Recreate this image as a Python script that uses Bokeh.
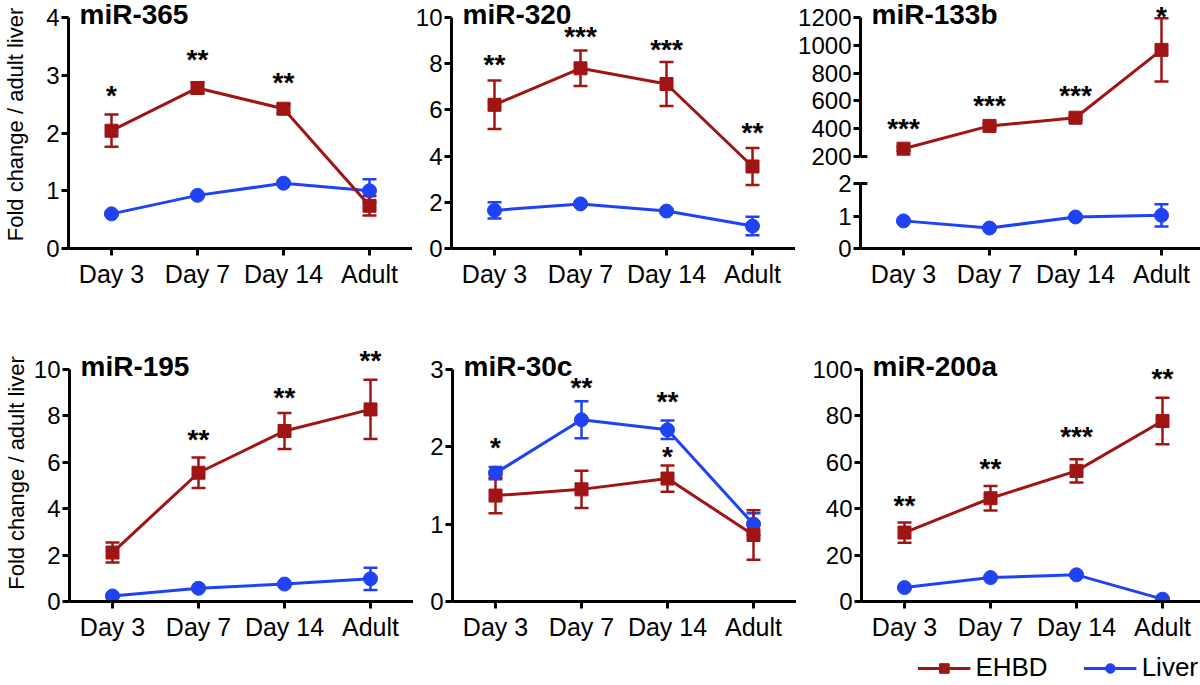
from bokeh.plotting import figure
from bokeh.models import (FactorRange, Range1d, FixedTicker, ColumnDataSource, Whisker,
                          TeeHead, Label, LabelSet, Legend, LegendItem)
from bokeh.layouts import row, column
from bokeh.embed import file_html
from bokeh.resources import INLINE
from bokeh.core.properties import value

# ---------------- data ----------------
categories = ["Day 3", "Day 7", "Day 14", "Adult"]

# miR-365
mir365_ehbd = [2.04, 2.78, 2.42, 0.74]
mir365_ehbd_err = [0.28, 0.10, 0.08, 0.17]
mir365_liver = [0.60, 0.92, 1.13, 1.00]
mir365_liver_err = [0.02, 0.02, 0.02, 0.20]
mir365_ticks = [0, 1, 2, 3, 4]
mir365_stars = ["*", "**", "**", ""]
mir365_star_y = [2.69, 3.31, 2.91, 0]

# miR-320
mir320_ehbd = [6.22, 7.80, 7.12, 3.55]
mir320_ehbd_err = [1.05, 0.77, 0.95, 0.80]
mir320_liver = [1.65, 1.93, 1.62, 0.97]
mir320_liver_err = [0.35, 0.06, 0.06, 0.40]
mir320_ticks = [0, 2, 4, 6, 8, 10]
mir320_stars = ["**", "***", "***", "**"]
mir320_star_y = [8.07, 9.29, 8.74, 5.11]

# miR-133b (broken axis)
mir133b_ehbd = [256, 420, 479, 967]
mir133b_ehbd_err = [15, 15, 15, 227]
mir133b_liver = [0.85, 0.63, 0.97, 1.02]
mir133b_liver_err = [0.03, 0.03, 0.03, 0.34]
mir133b_ticks_upper = [200, 400, 600, 800, 1000, 1200]
mir133b_ticks_lower = [0, 1, 2]
mir133b_stars = ["***", "***", "***", "*"]
mir133b_star_y = [418, 587, 656, 1225]

# miR-195
mir195_ehbd = [2.11, 5.55, 7.35, 8.28]
mir195_ehbd_err = [0.43, 0.66, 0.78, 1.28]
mir195_liver = [0.24, 0.57, 0.75, 0.98]
mir195_liver_err = [0.05, 0.05, 0.05, 0.48]
mir195_ticks = [0, 2, 4, 6, 8, 10]
mir195_stars = ["", "**", "**", "**"]
mir195_star_y = [0, 7.10, 8.92, 10.5]

# miR-30c
mir30c_ehbd = [1.37, 1.45, 1.59, 0.86]
mir30c_ehbd_err = [0.23, 0.24, 0.17, 0.32]
mir30c_liver = [1.66, 2.35, 2.22, 1.00]
mir30c_liver_err = [0.08, 0.24, 0.12, 0.14]
mir30c_ticks = [0, 1, 2, 3]
mir30c_stars_liver = ["*", "**", "**", ""]
mir30c_star_y_liver = [2.02, 2.80, 2.62, 0]
mir30c_stars_ehbd = ["", "", "*", ""]
mir30c_star_y_ehbd = [0, 0, 1.91, 0]

# miR-200a
mir200a_ehbd = [29.7, 44.5, 56.3, 77.8]
mir200a_ehbd_err = [4.4, 5.3, 5.0, 10.0]
mir200a_liver = [6.0, 10.3, 11.5, 1.0]
mir200a_liver_err = [0.3, 0.3, 0.3, 0.3]
mir200a_ticks = [0, 20, 40, 60, 80, 100]
mir200a_stars = ["**", "**", "***", "**"]
mir200a_star_y = [42.6, 58.4, 72.2, 97.1]

series_names = ["EHBD", "Liver"]
y_title = "Fold change / adult liver"

# ---------------- style / layout ----------------
FONT = "Liberation Sans"
RED = "#A01414"
BLUE = "#1F42F2"
FW = 344            # frame width (px)
YTICK_FS = "24px"
XTICK_FS = "25px"
NAN = float("nan")

# row 1: frame starts at figure top; axis occupies 231 px, 17 px of headroom above
R1_AXIS, R1_HEAD = 231, 17
# row 2: border above frame, axis 232 px, 25 px of headroom above axis top
R2_BORDER, R2_AXIS, R2_HEAD = 54, 232, 25
BOTTOM = 41


def make_range(lo, hi, axis_px, head_px, foot_px=0):
    u = (hi - lo) / axis_px
    return Range1d(lo - foot_px * u, hi + head_px * u)


def new_fig(y_range, frame_h, ticks, left, top, bottom, x_axis=True):
    p = figure(x_range=FactorRange(factors=categories), y_range=y_range,
               frame_width=FW, frame_height=frame_h, toolbar_location=None,
               output_backend="svg", x_axis_location="below" if x_axis else None,
               min_border_left=left, min_border_right=0, min_border_top=top,
               min_border_bottom=bottom, outline_line_color=None,
               background_fill_color="white", border_fill_color="white")
    p.grid.visible = False
    p.yaxis.ticker = FixedTicker(ticks=ticks, minor_ticks=[])
    p.yaxis.bounds = (ticks[0], ticks[-1])
    for ax in p.axis:
        ax.axis_line_width = 3
        ax.axis_line_color = "black"
        ax.major_tick_line_width = 3
        ax.major_tick_line_color = "black"
        ax.major_tick_out = 7
        ax.major_tick_in = 0
        ax.minor_tick_line_color = None
        ax.major_label_text_font = FONT
        ax.major_label_text_color = "black"
    p.yaxis.major_label_text_font_size = YTICK_FS
    p.yaxis.major_label_standoff = 2
    if x_axis:
        p.xaxis.major_label_text_font_size = XTICK_FS
        p.xaxis.major_label_standoff = 4
    return p


def add_title(p, name, y_top):
    # x = 0 is the left edge of the categorical frame
    p.add_layout(Label(x=0, y=y_top, x_offset=11, y_offset=3, text=name,
                       text_font=FONT, text_font_size="28px", text_font_style="bold",
                       text_align="left", text_baseline="alphabetic", text_color="black"))


def add_series(p, vals, errs, color, marker, size):
    src = ColumnDataSource(dict(
        x=categories, y=vals,
        upper=[v + e for v, e in zip(vals, errs)],
        lower=[v - e for v, e in zip(vals, errs)]))
    w = Whisker(base="x", upper="upper", lower="lower", source=src, dimension="height",
                line_color=color, line_width=2.5,
                upper_head=TeeHead(size=14, line_color=color, line_width=2.5),
                lower_head=TeeHead(size=14, line_color=color, line_width=2.5))
    p.add_layout(w)
    p.line(x="x", y="y", source=src, line_color=color, line_width=3)
    p.scatter(x="x", y="y", source=src, marker=marker, size=size,
              fill_color=color, line_color=color)


def add_stars(p, stars, star_y):
    xs = [c for c, s in zip(categories, stars) if s]
    ys = [y for y, s in zip(star_y, stars) if s]
    ts = [s for s in stars if s]
    src = ColumnDataSource(dict(x=xs, y=ys, text=ts))
    p.add_layout(LabelSet(x="x", y="y", text="text", source=src, text_align="center",
                          text_baseline="alphabetic", y_offset=-12,
                          text_font=value(FONT), text_font_size="28px",
                          text_font_style="bold", text_color="black"))


def panel(name, ehbd, ehbd_err, liver, liver_err, ticks, left, row_no, ylabel_standoff=None):
    if row_no == 1:
        rng = make_range(ticks[0], ticks[-1], R1_AXIS, R1_HEAD)
        p = new_fig(rng, R1_AXIS + R1_HEAD, ticks, left, 0, BOTTOM)
    else:
        rng = make_range(ticks[0], ticks[-1], R2_AXIS, R2_HEAD)
        p = new_fig(rng, R2_AXIS + R2_HEAD, ticks, left, R2_BORDER, BOTTOM)
    add_series(p, liver, liver_err, BLUE, "circle", 14)
    add_series(p, ehbd, ehbd_err, RED, "square", 13)
    add_title(p, name, ticks[-1])
    if ylabel_standoff is not None:
        p.yaxis.axis_label = y_title
        p.yaxis.axis_label_text_font = FONT
        p.yaxis.axis_label_text_font_size = "22px"
        p.yaxis.axis_label_text_font_style = "normal"
        p.yaxis.axis_label_text_color = "black"
        p.yaxis.axis_label_standoff = ylabel_standoff
    return p


p1 = panel("miR-365", mir365_ehbd, mir365_ehbd_err, mir365_liver, mir365_liver_err,
           mir365_ticks, 64, 1, ylabel_standoff=15)
add_stars(p1, mir365_stars, mir365_star_y)

p2 = panel("miR-320", mir320_ehbd, mir320_ehbd_err, mir320_liver, mir320_liver_err,
           mir320_ticks, 39, 1)
add_stars(p2, mir320_stars, mir320_star_y)

# miR-133b: broken y axis -> two stacked figures
# upper: 1000 units over 139 px, 17 px headroom, 14 px below the 200 tick
UP_AXIS, UP_HEAD, UP_FOOT = 139, 17, 14
p3u = new_fig(make_range(mir133b_ticks_upper[0], mir133b_ticks_upper[-1], UP_AXIS, UP_HEAD, UP_FOOT),
              UP_AXIS + UP_HEAD + UP_FOOT, mir133b_ticks_upper, 65, 0, 0, x_axis=False)
add_series(p3u, mir133b_ehbd, mir133b_ehbd_err, RED, "square", 13)
add_title(p3u, "miR-133b", mir133b_ticks_upper[-1])
add_stars(p3u, mir133b_stars, mir133b_star_y)
p3u.add_layout(Whisker(base=mir133b_ticks_upper[0], lower=0, upper=0.08, dimension="width",
                       line_color="black", line_width=3, upper_head=None, lower_head=None))

# lower: 2 units, 13 px of gap above the 2 tick
LO_HEAD = 13
LO_AXIS = R1_AXIS + R1_HEAD - (UP_AXIS + UP_HEAD + UP_FOOT) - LO_HEAD
p3l = new_fig(make_range(mir133b_ticks_lower[0], mir133b_ticks_lower[-1], LO_AXIS, LO_HEAD),
              LO_AXIS + LO_HEAD, mir133b_ticks_lower, 65, 0, BOTTOM)
add_series(p3l, mir133b_liver, mir133b_liver_err, BLUE, "circle", 14)
p3l.add_layout(Whisker(base=mir133b_ticks_lower[-1], lower=0, upper=0.08, dimension="width",
                       line_color="black", line_width=3, upper_head=None, lower_head=None))

p4 = panel("miR-195", mir195_ehbd, mir195_ehbd_err, mir195_liver, mir195_liver_err,
           mir195_ticks, 64, 2, ylabel_standoff=2)
add_stars(p4, mir195_stars, mir195_star_y)

p5 = panel("miR-30c", mir30c_ehbd, mir30c_ehbd_err, mir30c_liver, mir30c_liver_err,
           mir30c_ticks, 39, 2)
add_stars(p5, mir30c_stars_liver, mir30c_star_y_liver)
add_stars(p5, mir30c_stars_ehbd, mir30c_star_y_ehbd)

p6 = panel("miR-200a", mir200a_ehbd, mir200a_ehbd_err, mir200a_liver, mir200a_liver_err,
           mir200a_ticks, 65, 2)
add_stars(p6, mir200a_stars, mir200a_star_y)

# ---------------- legend ----------------
lg = figure(width=1200, height=42, x_range=Range1d(0, 1), y_range=Range1d(0, 1),
            toolbar_location=None, output_backend="svg", min_border=0,
            x_axis_location=None, y_axis_location=None, outline_line_color=None)
try:
    lg.grid.visible = False
except Exception:
    pass
r_el = lg.line(x=[NAN, NAN], y=[NAN, NAN], line_color=RED, line_width=3)
r_es = lg.scatter(x=[NAN], y=[NAN], marker="square", size=13, fill_color=RED, line_color=RED)
r_ll = lg.line(x=[NAN, NAN], y=[NAN, NAN], line_color=BLUE, line_width=3)
r_ls = lg.scatter(x=[NAN], y=[NAN], marker="circle", size=14, fill_color=BLUE, line_color=BLUE)
legend = Legend(items=[LegendItem(label=series_names[0], renderers=[r_el, r_es]),
                       LegendItem(label=series_names[1], renderers=[r_ll, r_ls])],
                orientation="horizontal", location="bottom_right", margin=2, padding=0,
                spacing=36, glyph_width=53, glyph_height=24, label_standoff=5,
                label_text_font=FONT, label_text_font_size="26px", label_text_color="black",
                border_line_color=None, background_fill_alpha=0)
lg.add_layout(legend)

layout = column(row(p1, p2, column(p3u, p3l)), row(p4, p5, p6), lg)

with open("out.html", "w") as f:
    f.write(file_html(layout, INLINE, title="miRNA fold change"))
